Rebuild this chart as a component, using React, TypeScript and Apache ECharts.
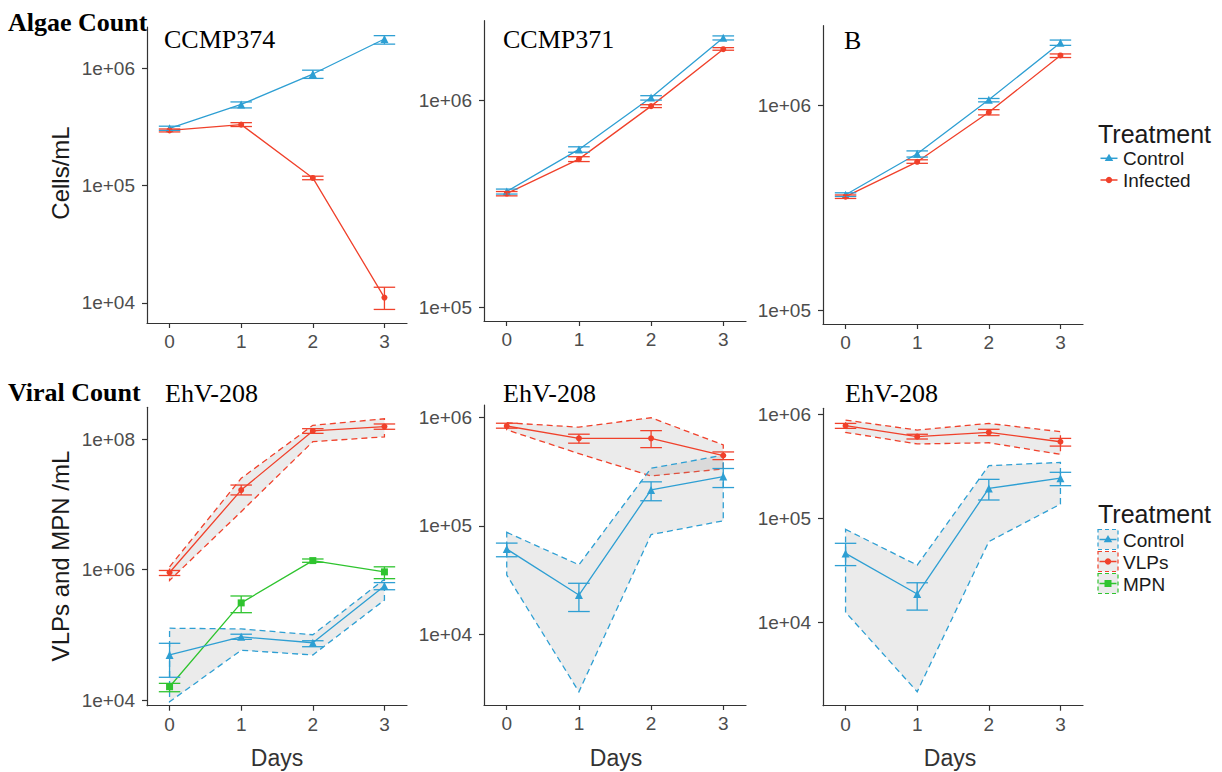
import React, { useEffect, useRef } from 'react';
import * as echarts from 'echarts';

// ---------- data ----------
const days = [0, 1, 2, 3];

// Algae counts (cells/mL)
const c374Control = [3.07e5, 4.9e5, 8.9e5, 1.77e6];
const c374ControlLo = [2.95e5, 4.58e5, 8.17e5, 1.6e6];
const c374ControlHi = [3.2e5, 5.15e5, 9.6e5, 1.89e6];
const c374Infected = [2.95e5, 3.3e5, 1.16e5, 1.11e4];
const c374InfectedLo = [2.86e5, 3.18e5, 1.12e5, 8.8e3];
const c374InfectedHi = [3.03e5, 3.43e5, 1.2e5, 1.36e4];

const c371Control = [3.62e5, 5.78e5, 1.03e6, 2.0e6];
const c371ControlLo = [3.52e5, 5.6e5, 1.0e6, 1.95e6];
const c371ControlHi = [3.72e5, 5.95e5, 1.05e6, 2.04e6];
const c371Infected = [3.54e5, 5.19e5, 9.35e5, 1.76e6];
const c371InfectedLo = [3.45e5, 5.05e5, 9.2e5, 1.74e6];
const c371InfectedHi = [3.62e5, 5.33e5, 9.5e5, 1.79e6];

const cBControl = [3.67e5, 5.81e5, 1.065e6, 2.02e6];
const cBControlLo = [3.6e5, 5.6e5, 1.04e6, 1.96e6];
const cBControlHi = [3.75e5, 6.0e5, 1.08e6, 2.08e6];
const cBInfected = [3.59e5, 5.31e5, 9.25e5, 1.75e6];
const cBInfectedLo = [3.52e5, 5.22e5, 8.98e5, 1.71e6];
const cBInfectedHi = [3.66e5, 5.43e5, 9.53e5, 1.78e6];

// Viral counts (VLPs and MPN /mL)
const v374Vlp = [9.0e5, 1.65e7, 1.33e8, 1.55e8];
const v374VlpLo = [8.1e5, 1.39e7, 1.22e8, 1.41e8];
const v374VlpHi = [9.67e5, 1.97e7, 1.44e8, 1.7e8];
const v374VlpBandLo = [6.8e5, 7.7e6, 9.1e7, 1.08e8];
const v374VlpBandHi = [1.1e6, 2.5e7, 1.62e8, 2.04e8];
const v374Mpn = [1.6e4, 3.08e5, 1.37e6, 9.2e5];
const v374MpnLo = [1.34e4, 2.18e5, 1.29e6, 7.24e5];
const v374MpnHi = [1.8e4, 3.93e5, 1.45e6, 1.1e6];
const v374Ctrl = [4.9e4, 9.3e4, 7.55e4, 5.6e5];
const v374CtrlLo = [2.23e4, 8.5e4, 6.56e4, 4.9e5];
const v374CtrlHi = [7.4e4, 1.02e5, 8.1e4, 6.3e5];
const v374CtrlBandLo = [9.4e3, 5.8e4, 4.9e4, 3.4e5];
const v374CtrlBandHi = [1.26e5, 1.23e5, 1.0e5, 7.1e5];

const v371Vlp = [8.3e5, 6.4e5, 6.4e5, 4.44e5];
const v371VlpLo = [7.93e5, 5.77e5, 5.25e5, 4.07e5];
const v371VlpHi = [8.81e5, 6.98e5, 7.53e5, 4.79e5];
const v371VlpBandLo = [7.66e5, 4.62e5, 2.88e5, 3.34e5];
const v371VlpBandHi = [8.9e5, 8.1e5, 9.9e5, 5.56e5];
const v371Ctrl = [6.1e4, 2.3e4, 2.14e5, 2.84e5];
const v371CtrlLo = [5.18e4, 1.62e4, 1.7e5, 2.25e5];
const v371CtrlHi = [6.92e4, 2.95e4, 2.54e5, 3.37e5];
const v371CtrlBandLo = [3.52e4, 2.95e3, 8.3e4, 1.11e5];
const v371CtrlBandHi = [8.7e4, 4.37e4, 3.39e5, 4.47e5];

const vBVlp = [7.77e5, 6.1e5, 6.7e5, 5.45e5];
const vBVlpLo = [7.33e5, 5.79e5, 6.24e5, 4.95e5];
const vBVlpHi = [8.18e5, 6.43e5, 7.18e5, 5.87e5];
const vBVlpBandLo = [6.71e5, 5.19e5, 5.33e5, 4.12e5];
const vBVlpBandHi = [8.8e5, 7.06e5, 8.18e5, 6.81e5];
const vBCtrl = [4.6e4, 1.87e4, 1.94e5, 2.43e5];
const vBCtrlLo = [3.51e4, 1.31e4, 1.5e5, 2.06e5];
const vBCtrlHi = [5.75e4, 2.4e4, 2.37e5, 2.77e5];
const vBCtrlBandLo = [1.25e4, 2.15e3, 5.97e4, 1.37e5];
const vBCtrlBandHi = [7.83e4, 3.55e4, 3.21e5, 3.45e5];

// tick values
const xTicks = [0, 1, 2, 3];
const yTicksP1 = [1e4, 1e5, 1e6];
const yTicksP2 = [1e5, 1e6];
const yTicksP3 = [1e5, 1e6];
const yTicksP4 = [1e4, 1e6, 1e8];
const yTicksP5 = [1e4, 1e5, 1e6];
const yTicksP6 = [1e4, 1e5, 1e6];

// ---------- styles / layout ----------
const BLUE = '#2e9fd3';
const RED = '#f0412b';
const GREEN = '#2fc42f';
const BAND_FILL = 'rgba(150,150,150,0.19)';
const SANS = '"Liberation Sans", Arial, Helvetica, sans-serif';
const SERIF = '"Liberation Serif", "Times New Roman", serif';

const L = (v: number) => Math.log10(v);

const panels = [
  { left: 147, top: 27, width: 260, height: 296, ymin: 3.829, ymax: 6.35, ticks: yTicksP1 },
  { left: 484, top: 20.7, width: 262, height: 300.3, ymin: 4.934, ymax: 6.383, ticks: yTicksP2 },
  { left: 823, top: 25.7, width: 260, height: 298.3, ymin: 4.935, ymax: 6.388, ticks: yTicksP3 },
  { left: 147, top: 407.3, width: 260, height: 298.4, ymin: 3.913, ymax: 8.486, ticks: yTicksP4 },
  { left: 484, top: 405, width: 262, height: 300, ymin: 3.348, ymax: 6.113, ticks: yTicksP5 },
  { left: 823, top: 408.3, width: 260, height: 297.4, ymin: 3.198, ymax: 6.058, ticks: yTicksP6 },
];

function fmtExp(v: number) {
  const e = Math.round(v);
  return '1e+' + (e < 10 ? '0' : '') + e;
}

function lineSeries(name: string, idx: number, vals: number[], color: string, symbol: string, size: number) {
  return {
    type: 'line',
    name,
    xAxisIndex: idx,
    yAxisIndex: idx,
    data: days.map((d, i) => [d, L(vals[i])]),
    symbol,
    symbolSize: size,
    showSymbol: true,
    lineStyle: { color, width: 1.3 },
    itemStyle: { color },
    z: 3,
    silent: true,
  };
}

function errSeries(idx: number, lo: number[], hi: number[], color: string) {
  return {
    type: 'custom',
    xAxisIndex: idx,
    yAxisIndex: idx,
    data: days.map((d, i) => [d, L(lo[i]), L(hi[i])]),
    encode: { x: 0, y: [1, 2] },
    z: 4,
    silent: true,
    renderItem: (params: any, api: any) => {
      const x = api.value(0);
      const pLo = api.coord([x, api.value(1)]);
      const pHi = api.coord([x, api.value(2)]);
      const hw = api.size([0.3, 0])[0] / 2;
      const st = { stroke: color, lineWidth: 1.3, fill: null };
      return {
        type: 'group',
        children: [
          { type: 'line', shape: { x1: pLo[0], y1: pLo[1], x2: pHi[0], y2: pHi[1] }, style: st },
          { type: 'line', shape: { x1: pLo[0] - hw, y1: pLo[1], x2: pLo[0] + hw, y2: pLo[1] }, style: st },
          { type: 'line', shape: { x1: pHi[0] - hw, y1: pHi[1], x2: pHi[0] + hw, y2: pHi[1] }, style: st },
        ],
      };
    },
  };
}

function bandSeries(idx: number, lo: number[], hi: number[], color: string) {
  return {
    type: 'custom',
    xAxisIndex: idx,
    yAxisIndex: idx,
    data: days.map((d, i) => [d, L(lo[i]), L(hi[i])]),
    encode: { x: 0, y: [1, 2] },
    z: 1,
    silent: true,
    renderItem: (params: any, api: any) => {
      if (params.dataIndex !== 0) return null;
      const upper = days.map((d, i) => api.coord([d, L(hi[i])]));
      const lower = days.map((d, i) => api.coord([d, L(lo[i])])).reverse();
      return {
        type: 'polygon',
        shape: { points: upper.concat(lower) },
        style: { fill: BAND_FILL, stroke: color, lineWidth: 1.3, lineDash: [6, 4] },
      };
    },
  };
}

function tri(cx: number, cy: number, r: number) {
  return [
    [cx, cy - r],
    [cx + r * 0.95, cy + r * 0.6],
    [cx - r * 0.95, cy + r * 0.6],
  ];
}

function buildOption() {
  const grid = panels.map((p) => ({ left: p.left, top: p.top, width: p.width, height: p.height, containLabel: false }));
  const axisLine = { show: true, onZero: false, lineStyle: { color: '#333', width: 1.2 } };
  const xAxis = panels.map((p, i) => ({
    type: 'value',
    gridIndex: i,
    min: -0.315,
    max: 3.315,
    axisLine,
    axisTick: { show: true, length: 5, customValues: xTicks, lineStyle: { color: '#333', width: 1.2 } },
    axisLabel: {
      customValues: xTicks,
      formatter: (v: number) => String(v),
      color: '#4d4d4d',
      fontSize: 19,
      fontFamily: SANS,
      margin: 9,
    },
    splitLine: { show: false },
  }));
  const yAxis = panels.map((p, i) => ({
    type: 'value',
    gridIndex: i,
    min: p.ymin,
    max: p.ymax,
    axisLine,
    axisTick: { show: true, length: 5, customValues: p.ticks.map(L), lineStyle: { color: '#333', width: 1.2 } },
    axisLabel: {
      customValues: p.ticks.map(L),
      formatter: fmtExp,
      color: '#4d4d4d',
      fontSize: 19,
      fontFamily: SANS,
      margin: 12,
    },
    splitLine: { show: false },
  }));

  const series: any[] = [
    // panel 0: CCMP374 algae
    lineSeries('Control', 0, c374Control, BLUE, 'triangle', 8),
    errSeries(0, c374ControlLo, c374ControlHi, BLUE),
    lineSeries('Infected', 0, c374Infected, RED, 'circle', 6),
    errSeries(0, c374InfectedLo, c374InfectedHi, RED),
    // panel 1: CCMP371 algae
    lineSeries('Control', 1, c371Control, BLUE, 'triangle', 8),
    errSeries(1, c371ControlLo, c371ControlHi, BLUE),
    lineSeries('Infected', 1, c371Infected, RED, 'circle', 6),
    errSeries(1, c371InfectedLo, c371InfectedHi, RED),
    // panel 2: B algae
    lineSeries('Control', 2, cBControl, BLUE, 'triangle', 8),
    errSeries(2, cBControlLo, cBControlHi, BLUE),
    lineSeries('Infected', 2, cBInfected, RED, 'circle', 6),
    errSeries(2, cBInfectedLo, cBInfectedHi, RED),
    // panel 3: viral CCMP374
    bandSeries(3, v374VlpBandLo, v374VlpBandHi, RED),
    bandSeries(3, v374CtrlBandLo, v374CtrlBandHi, BLUE),
    lineSeries('VLPs', 3, v374Vlp, RED, 'circle', 6),
    errSeries(3, v374VlpLo, v374VlpHi, RED),
    lineSeries('MPN', 3, v374Mpn, GREEN, 'rect', 7),
    errSeries(3, v374MpnLo, v374MpnHi, GREEN),
    lineSeries('Control', 3, v374Ctrl, BLUE, 'triangle', 8),
    errSeries(3, v374CtrlLo, v374CtrlHi, BLUE),
    // panel 4: viral CCMP371
    bandSeries(4, v371VlpBandLo, v371VlpBandHi, RED),
    bandSeries(4, v371CtrlBandLo, v371CtrlBandHi, BLUE),
    lineSeries('VLPs', 4, v371Vlp, RED, 'circle', 6),
    errSeries(4, v371VlpLo, v371VlpHi, RED),
    lineSeries('Control', 4, v371Ctrl, BLUE, 'triangle', 8),
    errSeries(4, v371CtrlLo, v371CtrlHi, BLUE),
    // panel 5: viral B
    bandSeries(5, vBVlpBandLo, vBVlpBandHi, RED),
    bandSeries(5, vBCtrlBandLo, vBCtrlBandHi, BLUE),
    lineSeries('VLPs', 5, vBVlp, RED, 'circle', 6),
    errSeries(5, vBVlpLo, vBVlpHi, RED),
    lineSeries('Control', 5, vBCtrl, BLUE, 'triangle', 8),
    errSeries(5, vBCtrlLo, vBCtrlHi, BLUE),
  ];

  const txt = (text: string, x: number, y: number, size: number, family: string, extra: any = {}) => ({
    type: 'text',
    x,
    y,
    silent: true,
    ...('rotation' in extra ? { rotation: extra.rotation } : {}),
    style: {
      text,
      fontSize: size,
      fontFamily: family,
      fontWeight: extra.bold ? 'bold' : 'normal',
      fill: extra.fill || '#000',
      align: extra.align || 'left',
      verticalAlign: 'middle',
    },
  });

  const legendLine = (x: number, y: number, color: string) => ({
    type: 'line',
    silent: true,
    shape: { x1: x, y1: y, x2: x + 17, y2: y },
    style: { stroke: color, lineWidth: 1.5 },
  });

  const bandBox = (x: number, y: number, color: string) => ({
    type: 'rect',
    silent: true,
    shape: { x, y, width: 20, height: 20 },
    style: { fill: BAND_FILL, stroke: color, lineWidth: 1.2, lineDash: [4, 3] },
  });

  const graphic: any[] = [
    txt('Algae Count', 8, 22, 26, SERIF, { bold: true }),
    txt('CCMP374', 164, 39.5, 26, SERIF),
    txt('CCMP371', 503, 39.5, 26, SERIF),
    txt('B', 844, 40, 26, SERIF),
    txt('Viral Count', 8, 392, 26, SERIF, { bold: true }),
    txt('EhV-208', 165, 393.5, 26, SERIF),
    txt('EhV-208', 503, 393.5, 26, SERIF),
    txt('EhV-208', 845, 393.5, 26, SERIF),
    txt('Cells/mL', 60, 173, 24, SANS, { rotation: Math.PI / 2, align: 'center', fill: '#1a1a1a' }),
    txt('VLPs and MPN /mL', 60, 556, 24, SANS, { rotation: Math.PI / 2, align: 'center', fill: '#1a1a1a' }),
    txt('Days', 277, 758, 23, SANS, { align: 'center', fill: '#333' }),
    txt('Days', 616, 758, 23, SANS, { align: 'center', fill: '#333' }),
    txt('Days', 950, 758, 23, SANS, { align: 'center', fill: '#333' }),

    // top legend
    txt('Treatment', 1098, 133.5, 25, SANS, { fill: '#1a1a1a' }),
    legendLine(1100.5, 158.3, BLUE),
    { type: 'polygon', silent: true, shape: { points: tri(1109, 158.3, 4.5) }, style: { fill: BLUE } },
    txt('Control', 1123, 158.3, 19, SANS, { fill: '#1a1a1a' }),
    legendLine(1100.5, 180, RED),
    { type: 'circle', silent: true, shape: { cx: 1109, cy: 180, r: 3.2 }, style: { fill: RED } },
    txt('Infected', 1123, 180, 19, SANS, { fill: '#1a1a1a' }),

    // bottom legend
    txt('Treatment', 1098, 514, 25, SANS, { fill: '#1a1a1a' }),
    bandBox(1098, 529.5, BLUE),
    legendLine(1099.5, 539.5, BLUE),
    { type: 'polygon', silent: true, shape: { points: tri(1108, 539.5, 4.5) }, style: { fill: BLUE } },
    txt('Control', 1123, 540, 19, SANS, { fill: '#1a1a1a' }),
    bandBox(1098, 551.5, RED),
    legendLine(1099.5, 561.5, RED),
    { type: 'circle', silent: true, shape: { cx: 1108, cy: 561.5, r: 3.2 }, style: { fill: RED } },
    txt('VLPs', 1123, 562, 19, SANS, { fill: '#1a1a1a' }),
    bandBox(1098, 573.5, GREEN),
    legendLine(1099.5, 583.5, GREEN),
    { type: 'rect', silent: true, shape: { x: 1104.5, y: 580, width: 7, height: 7 }, style: { fill: GREEN } },
    txt('MPN', 1123, 584, 19, SANS, { fill: '#1a1a1a' }),
  ];

  return {
    animation: false,
    backgroundColor: '#ffffff',
    grid,
    xAxis,
    yAxis,
    series,
    graphic,
  };
}

export default function App() {
  const ref = useRef<HTMLDivElement>(null);
  useEffect(() => {
    document.body.style.margin = '0';
    if (!ref.current) return;
    const chart = echarts.init(ref.current, undefined, { renderer: 'svg' });
    chart.setOption(buildOption() as any);
    return () => {
      chart.dispose();
    };
  }, []);
  return <div ref={ref} style={{ width: 1222, height: 772 }} />;
}
